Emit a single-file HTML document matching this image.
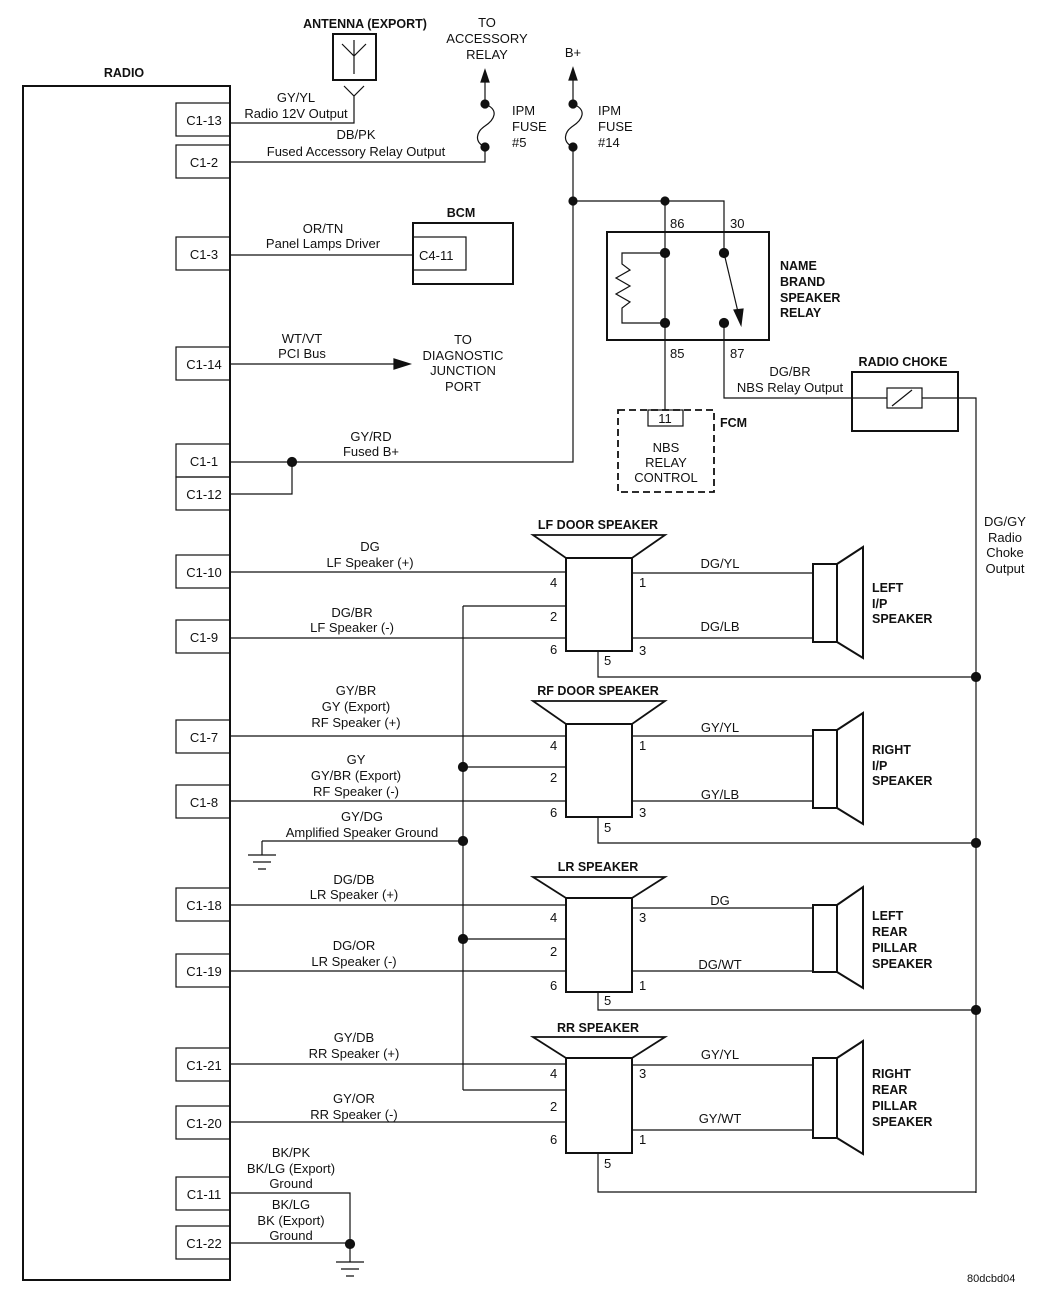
<!DOCTYPE html>
<html><head><meta charset="utf-8"><style>
html,body{margin:0;padding:0;background:#fff}
svg{display:block}
text{font-family:"Liberation Sans",Arial,sans-serif;font-size:13px;fill:#111}
.b{font-weight:bold;font-size:12.5px}
.m{text-anchor:middle}
</style></head><body>
<svg width="1040" height="1295" viewBox="0 0 1040 1295" xmlns="http://www.w3.org/2000/svg" stroke="#111" fill="none" stroke-width="1.2">
<!-- Radio -->
<text class="b m" x="124" y="77" stroke="none">RADIO</text>
<rect x="23" y="86" width="207" height="1194" stroke-width="2"/>
<g stroke-width="1.2">
<rect x="176" y="103" width="54" height="33"/><rect x="176" y="145" width="54" height="33"/>
<rect x="176" y="237" width="54" height="33"/><rect x="176" y="347" width="54" height="33"/>
<rect x="176" y="444" width="54" height="33"/><rect x="176" y="477" width="54" height="33"/>
<rect x="176" y="555" width="54" height="33"/><rect x="176" y="620" width="54" height="33"/>
<rect x="176" y="720" width="54" height="33"/><rect x="176" y="785" width="54" height="33"/>
<rect x="176" y="888" width="54" height="33"/><rect x="176" y="954" width="54" height="33"/>
<rect x="176" y="1048" width="54" height="33"/><rect x="176" y="1106" width="54" height="33"/>
<rect x="176" y="1177" width="54" height="33"/><rect x="176" y="1226" width="54" height="33"/>
</g>
<g stroke="none" class="m">
<text class="m" x="204" y="125">C1-13</text><text class="m" x="204" y="167">C1-2</text>
<text class="m" x="204" y="259">C1-3</text><text class="m" x="204" y="369">C1-14</text>
<text class="m" x="204" y="466">C1-1</text><text class="m" x="204" y="499">C1-12</text>
<text class="m" x="204" y="577">C1-10</text><text class="m" x="204" y="642">C1-9</text>
<text class="m" x="204" y="742">C1-7</text><text class="m" x="204" y="807">C1-8</text>
<text class="m" x="204" y="910">C1-18</text><text class="m" x="204" y="976">C1-19</text>
<text class="m" x="204" y="1070">C1-21</text><text class="m" x="204" y="1128">C1-20</text>
<text class="m" x="204" y="1199">C1-11</text><text class="m" x="204" y="1248">C1-22</text>
</g>
<!-- Antenna -->
<text class="b m" x="365" y="28" stroke="none">ANTENNA (EXPORT)</text>
<rect x="333" y="34" width="43" height="46" stroke-width="2"/>
<path d="M354 40V74M342 44L354 56L366 44M344 86L354 96L364 86M354 96V123H230"/>
<text class="m" x="296" y="102" stroke="none">GY/YL</text>
<text class="m" x="296" y="118" stroke="none">Radio 12V Output</text>
<!-- fuse 5 -->
<text class="m" x="487" y="27" stroke="none">TO</text>
<text class="m" x="487" y="43" stroke="none">ACCESSORY</text>
<text class="m" x="487" y="59" stroke="none">RELAY</text>
<path d="M485 104V82"/><path d="M485 70L481 82H489Z" fill="#111"/>
<path d="M485 104C500 110 494 120 485 126C476 132 474 142 485 147"/>
<path d="M485 147V162H230"/>
<circle cx="485" cy="104" r="4" fill="#111"/><circle cx="485" cy="147" r="4" fill="#111"/>
<text x="512" y="115" stroke="none">IPM</text><text x="512" y="131" stroke="none">FUSE</text><text x="512" y="147" stroke="none">#5</text>
<text class="m" x="356" y="139" stroke="none">DB/PK</text>
<text class="m" x="356" y="156" stroke="none">Fused Accessory Relay Output</text>
<!-- fuse 14 -->
<text class="m" x="573" y="57" stroke="none">B+</text>
<path d="M573 104V80"/><path d="M573 68L569 80H577Z" fill="#111"/>
<path d="M573 104C588 110 582 120 573 126C564 132 562 142 573 147"/>
<circle cx="573" cy="104" r="4" fill="#111"/><circle cx="573" cy="147" r="4" fill="#111"/>
<text x="598" y="115" stroke="none">IPM</text><text x="598" y="131" stroke="none">FUSE</text><text x="598" y="147" stroke="none">#14</text>
<path d="M573 147V462H230M292 462V494H230"/>
<circle cx="573" cy="201" r="4" fill="#111"/><circle cx="292" cy="462" r="4.5" fill="#111"/>
<text class="m" x="371" y="441" stroke="none">GY/RD</text><text class="m" x="371" y="456" stroke="none">Fused B+</text>
<!-- BCM -->
<text class="b m" x="461" y="217" stroke="none">BCM</text>
<rect x="413" y="223" width="100" height="61" stroke-width="2"/>
<rect x="413" y="237" width="53" height="33"/>
<text x="419" y="260" stroke="none">C4-11</text>
<path d="M230 255H413"/>
<text class="m" x="323" y="233" stroke="none">OR/TN</text><text class="m" x="323" y="248" stroke="none">Panel Lamps Driver</text>
<!-- PCI -->
<path d="M230 364H396"/><path d="M410 364L394 359V369Z" fill="#111"/>
<text class="m" x="302" y="343" stroke="none">WT/VT</text><text class="m" x="302" y="358" stroke="none">PCI Bus</text>
<text class="m" x="463" y="344" stroke="none">TO</text><text class="m" x="463" y="360" stroke="none">DIAGNOSTIC</text>
<text class="m" x="463" y="375" stroke="none">JUNCTION</text><text class="m" x="463" y="391" stroke="none">PORT</text>
<!-- Relay -->
<path d="M573 201H724V252M665 201V410"/>
<circle cx="665" cy="201" r="4" fill="#111"/>
<rect x="607" y="232" width="162" height="108" stroke-width="2"/>
<path d="M665 253H622V264L630 270L616 278L630 286L616 294L630 302L622 308V323H665"/>
<circle cx="665" cy="253" r="4.5" fill="#111"/><circle cx="665" cy="323" r="4.5" fill="#111"/>
<circle cx="724" cy="253" r="4.5" fill="#111"/><circle cx="724" cy="323" r="4.5" fill="#111"/>
<path d="M724 253L738 312"/><path d="M741 325L734 310L743 309Z" fill="#111"/>
<text x="670" y="228" stroke="none">86</text><text x="730" y="228" stroke="none">30</text>
<text x="670" y="358" stroke="none">85</text><text x="730" y="358" stroke="none">87</text>
<text class="b" x="780" y="270" stroke="none">NAME</text><text class="b" x="780" y="286" stroke="none">BRAND</text>
<text class="b" x="780" y="302" stroke="none">SPEAKER</text><text class="b" x="780" y="317" stroke="none">RELAY</text>
<!-- FCM -->
<rect x="618" y="410" width="96" height="82" stroke-dasharray="7,4" stroke-width="1.8"/>
<rect x="648" y="410" width="35" height="16"/>
<text class="m" x="665" y="423" stroke="none">11</text>
<text class="b" x="720" y="427" stroke="none">FCM</text>
<text class="m" x="666" y="452" stroke="none">NBS</text><text class="m" x="666" y="467" stroke="none">RELAY</text><text class="m" x="666" y="482" stroke="none">CONTROL</text>
<!-- choke -->
<path d="M724 323V398H852M958 398H976V1193"/>
<text class="m" x="790" y="376" stroke="none">DG/BR</text><text class="m" x="790" y="392" stroke="none">NBS Relay Output</text>
<text class="b m" x="903" y="366" stroke="none">RADIO CHOKE</text>
<rect x="852" y="372" width="106" height="59" stroke-width="2"/>
<path d="M852 398H887M922 398H958"/>
<rect x="887" y="388" width="35" height="20"/><path d="M892 406L912 390"/>
<text class="m" x="1005" y="526" stroke="none">DG/GY</text><text class="m" x="1005" y="542" stroke="none">Radio</text>
<text class="m" x="1005" y="557" stroke="none">Choke</text><text class="m" x="1005" y="573" stroke="none">Output</text>
<!-- bus -->
<path d="M463 606V1090"/>
<circle cx="463" cy="767" r="4.5" fill="#111"/><circle cx="463" cy="841" r="4.5" fill="#111"/><circle cx="463" cy="939" r="4.5" fill="#111"/>
<path d="M262 841H463M262 841V855M248 855H276M253 862H271M258 869H266"/>
<text class="m" x="362" y="821" stroke="none">GY/DG</text><text class="m" x="362" y="837" stroke="none">Amplified Speaker Ground</text>
<!-- Speaker template positions -->
<!-- LF -->
<text class="b m" x="598" y="529" stroke="none">LF DOOR SPEAKER</text>
<path d="M533 535H665L632 558H566Z" stroke-width="1.8"/>
<rect x="566" y="558" width="66" height="93" stroke-width="2"/>
<path d="M230 572H566M463 606H566M230 638H566M632 573H813M632 638H813M598 651V677H976"/>
<circle cx="976" cy="677" r="4.5" fill="#111"/>
<text x="550" y="587" stroke="none">4</text><text x="550" y="621" stroke="none">2</text><text x="550" y="654" stroke="none">6</text>
<text x="639" y="587" stroke="none">1</text><text x="639" y="655" stroke="none">3</text><text x="604" y="665" stroke="none">5</text>
<text class="m" x="720" y="568" stroke="none">DG/YL</text><text class="m" x="720" y="631" stroke="none">DG/LB</text>
<text class="m" x="370" y="551" stroke="none">DG</text><text class="m" x="370" y="567" stroke="none">LF Speaker (+)</text>
<text class="m" x="352" y="617" stroke="none">DG/BR</text><text class="m" x="352" y="632" stroke="none">LF Speaker (-)</text>
<rect x="813" y="564" width="24" height="78" stroke-width="2"/><path d="M837 564L863 547V658L837 642" stroke-width="2"/>
<text class="b" x="872" y="592" stroke="none">LEFT</text><text class="b" x="872" y="608" stroke="none">I/P</text><text class="b" x="872" y="623" stroke="none">SPEAKER</text>
<!-- RF -->
<text class="b m" x="598" y="695" stroke="none">RF DOOR SPEAKER</text>
<path d="M533 701H665L632 724H566Z" stroke-width="1.8"/>
<rect x="566" y="724" width="66" height="93" stroke-width="2"/>
<path d="M230 736H566M463 767H566M230 801H566M632 736H813M632 801H813M598 817V843H976"/>
<circle cx="976" cy="843" r="4.5" fill="#111"/>
<text x="550" y="750" stroke="none">4</text><text x="550" y="782" stroke="none">2</text><text x="550" y="817" stroke="none">6</text>
<text x="639" y="750" stroke="none">1</text><text x="639" y="817" stroke="none">3</text><text x="604" y="832" stroke="none">5</text>
<text class="m" x="720" y="732" stroke="none">GY/YL</text><text class="m" x="720" y="799" stroke="none">GY/LB</text>
<text class="m" x="356" y="695" stroke="none">GY/BR</text><text class="m" x="356" y="711" stroke="none">GY (Export)</text><text class="m" x="356" y="727" stroke="none">RF Speaker (+)</text>
<text class="m" x="356" y="764" stroke="none">GY</text><text class="m" x="356" y="780" stroke="none">GY/BR (Export)</text><text class="m" x="356" y="796" stroke="none">RF Speaker (-)</text>
<rect x="813" y="730" width="24" height="78" stroke-width="2"/><path d="M837 730L863 713V824L837 808" stroke-width="2"/>
<text class="b" x="872" y="754" stroke="none">RIGHT</text><text class="b" x="872" y="770" stroke="none">I/P</text><text class="b" x="872" y="785" stroke="none">SPEAKER</text>
<!-- LR -->
<text class="b m" x="598" y="871" stroke="none">LR SPEAKER</text>
<path d="M533 877H665L632 898H566Z" stroke-width="1.8"/>
<rect x="566" y="898" width="66" height="94" stroke-width="2"/>
<path d="M230 905H566M463 939H566M230 971H566M632 908H813M632 971H813M598 992V1010H976"/>
<circle cx="976" cy="1010" r="4.5" fill="#111"/>
<text x="550" y="922" stroke="none">4</text><text x="550" y="956" stroke="none">2</text><text x="550" y="990" stroke="none">6</text>
<text x="639" y="922" stroke="none">3</text><text x="639" y="990" stroke="none">1</text><text x="604" y="1005" stroke="none">5</text>
<text class="m" x="720" y="905" stroke="none">DG</text><text class="m" x="720" y="969" stroke="none">DG/WT</text>
<text class="m" x="354" y="884" stroke="none">DG/DB</text><text class="m" x="354" y="899" stroke="none">LR Speaker (+)</text>
<text class="m" x="354" y="950" stroke="none">DG/OR</text><text class="m" x="354" y="966" stroke="none">LR Speaker (-)</text>
<rect x="813" y="905" width="24" height="67" stroke-width="2"/><path d="M837 905L863 887V988L837 972" stroke-width="2"/>
<text class="b" x="872" y="920" stroke="none">LEFT</text><text class="b" x="872" y="936" stroke="none">REAR</text>
<text class="b" x="872" y="952" stroke="none">PILLAR</text><text class="b" x="872" y="968" stroke="none">SPEAKER</text>
<!-- RR -->
<text class="b m" x="598" y="1032" stroke="none">RR SPEAKER</text>
<path d="M533 1037H665L632 1058H566Z" stroke-width="1.8"/>
<rect x="566" y="1058" width="66" height="95" stroke-width="2"/>
<path d="M230 1064H566M463 1090H566M230 1122H566M632 1065H813M632 1130H813M598 1153V1192H976"/>
<text x="550" y="1078" stroke="none">4</text><text x="550" y="1111" stroke="none">2</text><text x="550" y="1144" stroke="none">6</text>
<text x="639" y="1078" stroke="none">3</text><text x="639" y="1144" stroke="none">1</text><text x="604" y="1168" stroke="none">5</text>
<text class="m" x="720" y="1059" stroke="none">GY/YL</text><text class="m" x="720" y="1123" stroke="none">GY/WT</text>
<text class="m" x="354" y="1042" stroke="none">GY/DB</text><text class="m" x="354" y="1058" stroke="none">RR Speaker (+)</text>
<text class="m" x="354" y="1103" stroke="none">GY/OR</text><text class="m" x="354" y="1119" stroke="none">RR Speaker (-)</text>
<rect x="813" y="1058" width="24" height="80" stroke-width="2"/><path d="M837 1058L863 1041V1154L837 1138" stroke-width="2"/>
<text class="b" x="872" y="1078" stroke="none">RIGHT</text><text class="b" x="872" y="1094" stroke="none">REAR</text>
<text class="b" x="872" y="1110" stroke="none">PILLAR</text><text class="b" x="872" y="1126" stroke="none">SPEAKER</text>
<!-- ground -->
<path d="M230 1193H350V1262M230 1243H350M336 1262H364M341 1269H359M346 1276H354"/>
<circle cx="350" cy="1244" r="4.5" fill="#111"/>
<text class="m" x="291" y="1157" stroke="none">BK/PK</text><text class="m" x="291" y="1173" stroke="none">BK/LG (Export)</text><text class="m" x="291" y="1188" stroke="none">Ground</text>
<text class="m" x="291" y="1209" stroke="none">BK/LG</text><text class="m" x="291" y="1225" stroke="none">BK (Export)</text><text class="m" x="291" y="1240" stroke="none">Ground</text>
<text x="967" y="1282" stroke="none" style="font-size:11px">80dcbd04</text>
</svg>
</body></html>
